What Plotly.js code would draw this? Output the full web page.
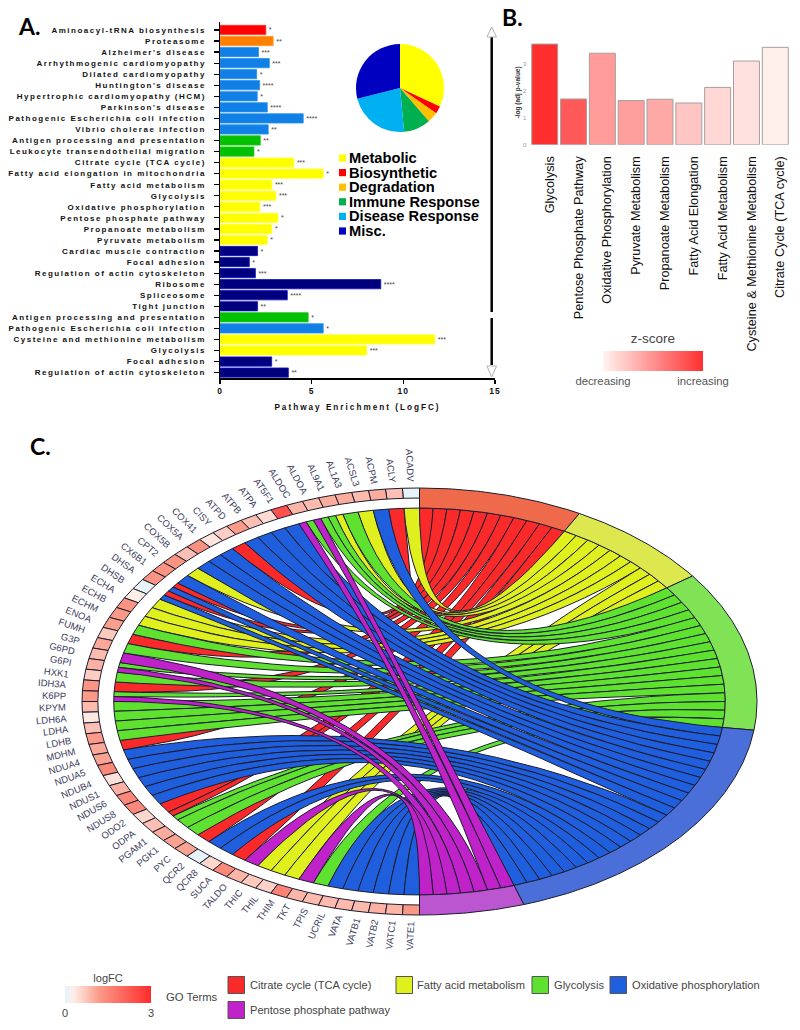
<!DOCTYPE html>
<html><head><meta charset="utf-8">
<script src="https://cdn.plot.ly/plotly-3.0.1.min.js"></script>
<style>
html,body{margin:0;padding:0;background:#fff}
#chart{width:800px;height:1030px}
.subplot.xy .yaxislayer-above text{letter-spacing:1.5px}
.subplot.xy .xaxislayer-above text{letter-spacing:1px}
.xtitle{letter-spacing:2px}
</style></head><body><div id="chart"></div>
<script>
// ---------- Panel A data
const pathways = ["Aminoacyl-tRNA biosynthesis","Proteasome","Alzheimer's disease","Arrhythmogenic cardiomyopathy","Dilated cardiomyopathy","Huntington's disease","Hypertrophic cardiomyopathy (HCM)","Parkinson's disease","Pathogenic Escherichia coli infection","Vibrio cholerae infection","Antigen processing and presentation","Leukocyte transendothelial migration","Citrate cycle (TCA cycle)","Fatty acid elongation in mitochondria","Fatty acid metabolism","Glycolysis","Oxidative phosphorylation","Pentose phosphate pathway","Propanoate metabolism","Pyruvate metabolism","Cardiac muscle contraction","Focal adhesion","Regulation of actin cytoskeleton","Ribosome","Spliceosome","Tight junction","Antigen processing and presentation","Pathogenic Escherichia coli infection","Cysteine and methionine metabolism","Glycolysis","Focal adhesion","Regulation of actin cytoskeleton"];
const enrichment = [2.5,2.9,2.1,2.69,2.0,2.16,2.03,2.58,4.54,2.63,2.2,1.85,4.03,5.63,2.83,3.05,2.18,3.16,2.83,2.58,2.05,1.6,1.93,8.77,3.67,2.05,4.81,5.63,11.72,8.0,2.82,3.73];
const groups = ["bio","deg","dis","dis","dis","dis","dis","dis","dis","dis","imm","imm","met","met","met","met","met","met","met","met","mis","mis","mis","mis","mis","mis","imm","dis","met","met","mis","mis"];
const stars = ["*","**","***","***","*","****","*","****","****","**","**","*","***","*","***","***","***","*","*","*","*","*","***","****","****","**","*","*","***","***","*","**"];
const groupFill = {bio:"#ff0000",deg:"#ff8000",dis:"#1080e6",imm:"#00c000",met:"#ffff00",mis:"#00007f"};
const groupEdge = {bio:"#ff3030",deg:"#ff9a30",dis:"#2a90ee",imm:"#20c820",met:"#ffff40",mis:"#1414c0"};
const pieLabels = ["Metabolic","Biosynthetic","Degradation","Immune Response","Disease Response","Misc."];
const pieValues = [31.9,2.8,3.9,9.9,22.6,28.9];
const pieColors = ["#ffff00","#ff0000","#ffc000","#00b050","#00b0f0","#0000c0"];
// ---------- Panel B data
const bTerms = ["Glycolysis","Pentose Phosphate Pathway","Oxidative Phosphorylation","Pyruvate Metabolism","Propanoate Metabolism","Fatty Acid Elongation","Fatty Acid Metabolism","Cysteine & Methionine Metabolism","Citrate Cycle (TCA cycle)"];
const bValues = [3.74,1.70,3.40,1.64,1.69,1.55,2.13,3.11,3.62];
const bZ = [1,.78,.45,.43,.38,.24,.14,.09,.02];
// ---------- Panel C data
const genes = ["ACADV","ACLY","ACPM","ACSL3","AL1A3","AL9A1","ALDOA","ALDOC","AT5F1","ATPA","ATPB","ATPD","CISY","COX41","COX5A","COX5B","CPT2","CX6B1","DHSA","DHSB","ECHA","ECHB","ECHM","ENOA","FUMH","G3P","G6PD","G6PI","HXK1","IDH3A","K6PP","KPYM","LDH6A","LDHA","LDHB","MDHM","NDUA4","NDUA5","NDUB4","NDUS1","NDUS6","NDUS8","ODO2","ODPA","PGAM1","PGK1","PYC","QCR2","QCR8","SUCA","TALDO","THIC","THIL","THIM","TKT","TPIS","UCRIL","VATA","VATB1","VATB2","VATC1","VATE1"];
const logFC = [.05,.8,1,.85,1,1,.85,.9,2.4,.5,.8,1.2,.65,.4,1.35,.8,1.3,1.3,1.3,.05,.3,1.3,1.2,1.15,.7,1.05,.85,.95,.65,1.3,1.2,.85,.35,.8,1.2,1.05,1.1,1.5,.45,.95,1.5,1.5,.55,.8,1,1.1,1.1,.05,.55,1.5,.9,.7,.6,1.6,.9,.85,.85,.85,.85,.95,.9,1.25];
const goTerms = ["Citrate cycle (TCA cycle)","Fatty acid metabolism","Glycolysis","Oxidative phosphorylation","Pentose phosphate pathway"];
const tcaGenes = ["ACLY","CISY","DHSA","DHSB","FUMH","IDH3A","MDHM","ODO2","ODPA","PYC","SUCA"];
const fattyGenes = ["ACADV","ACSL3","AL9A1","CPT2","ECHA","ECHB","ECHM","THIC","THIL","THIM"];
const glyGenes = ["AL1A3","AL9A1","ALDOA","ALDOC","ENOA","G3P","G6PI","HXK1","K6PP","KPYM","LDH6A","LDHA","LDHB","ODPA","PGAM1","PGK1","TPIS"];
const oxGenes = ["ACPM","AT5F1","ATPA","ATPB","ATPD","COX41","COX5A","COX5B","CX6B1","DHSA","DHSB","NDUA4","NDUA5","NDUB4","NDUS1","NDUS6","NDUS8","QCR2","QCR8","UCRIL","VATA","VATB1","VATB2","VATC1","VATE1"];
const pppGenes = ["ALDOA","ALDOC","G6PD","G6PI","K6PP","TALDO","TKT"];
const termGenes = [tcaGenes,fattyGenes,glyGenes,oxGenes,pppGenes];
const ribbonColors = ["#fb2a2a","#dff01e","#5fe22f","#1f5fdd","#be22c8"];
const ringColors = ["#ef6a4a","#dde84f","#80e255","#4a6fd8","#bb55d0"];

// ---------- helpers
const W=800,H=1030;
const px=x=>x/W, py=y=>1-y/H;
const FONT="Liberation Sans, Arial, sans-serif";
const cx=419.5,cy=701.5,rx=337.5,ry=213.5;
const L=70,R=770,T=478,B=925;
const rad=d=>d*Math.PI/180;
const pt=(deg,r)=>[Math.sin(rad(deg))*r,Math.cos(rad(deg))*r];
function arc(d0,d1,r){const n=Math.max(2,Math.ceil(Math.abs(d1-d0)/0.5));const o=[];for(let i=0;i<=n;i++){o.push(pt(d0+(d1-d0)*i/n,r));}return o;}
function bez(a,b){const o=[];for(let i=1;i<24;i++){const t=i/24,u=1-t;o.push([u*u*a[0]+t*t*b[0],u*u*a[1]+t*t*b[1]]);}return o;}
const LINE="#1c1c2e";
function poly(pts,fill,w,col){return {type:"scatter",mode:"lines",xaxis:"x3",yaxis:"y3",x:pts.map(p=>p[0]).concat(pts[0][0]),y:pts.map(p=>p[1]).concat(pts[0][1]),fill:"toself",fillcolor:fill,line:{color:col||LINE,width:w===undefined?1:w},hoverinfo:"skip",showlegend:false};}

const traces=[];
// Panel A bars
const idx=pathways.map((_,i)=>i);
traces.push({type:"bar",orientation:"h",x:enrichment,y:idx,width:.84,marker:{color:groups.map(g=>groupFill[g]),line:{color:groups.map(g=>groupEdge[g]),width:.8}},text:stars,textposition:"outside",cliponaxis:false,textfont:{family:FONT,size:7,color:"#444"},hoverinfo:"skip",showlegend:false,xaxis:"x",yaxis:"y"});
// Pie
traces.push({type:"pie",labels:pieLabels,values:pieValues,sort:false,direction:"clockwise",rotation:0,marker:{colors:pieColors},textinfo:"none",showlegend:false,hoverinfo:"skip",domain:{x:[px(356),px(444)],y:[py(132),py(44)]}});
// Panel B bars
traces.push({type:"bar",x:bTerms.map((_,i)=>i),y:bValues,width:.9,xaxis:"x2",yaxis:"y2",hoverinfo:"skip",showlegend:false,
 marker:{color:bZ,cmin:0,cmax:1,colorscale:[[0,"#fff4f0"],[1,"#ff2f2f"]],line:{color:"#a89e9e",width:1},
 colorbar:{orientation:"h",x:px(653),xanchor:"center",y:py(383),yanchor:"bottom",thickness:20,thicknessmode:"pixels",len:100,lenmode:"pixels",xpad:0,ypad:0,outlinewidth:0,ticks:"",tickmode:"array",tickvals:[0,1],ticktext:["decreasing","increasing"],tickfont:{family:FONT,size:11.3,color:"#555"},title:{text:"z-score",side:"top",font:{family:FONT,size:13.5,color:"#444"}}}}});

// Panel C chord
const nLinks=termGenes.reduce((s,g)=>s+g.length,0);
const termUnit=180/nLinks, cellDeg=180/genes.length;
const rInner=.906,rCell=.953;
const cellFill={}; genes.forEach((g,i)=>cellFill[g]=[]);
termGenes.forEach((list,t)=>list.forEach(g=>cellFill[g].push(t)));
let start=0; const starts=[];
termGenes.forEach(list=>{starts.push(start);start+=list.length*termUnit;});
termGenes.forEach((list,t)=>{
  const ordered=list.slice().sort((a,b)=>genes.indexOf(a)-genes.indexOf(b));
  ordered.forEach((g,k)=>{
    const gi=genes.indexOf(g),parts=cellFill[g],pi=parts.indexOf(t);
    const lo=-(gi+pi/parts.length)*cellDeg, hi=-(gi+(pi+1)/parts.length)*cellDeg;
    const t0=starts[t]+k*termUnit,t1=t0+termUnit;
    const a=arc(hi,lo,rInner),c=arc(t0,t1,rInner);
    const pts=a.concat(bez(pt(lo,rInner),pt(t0,rInner)),c,bez(pt(t1,rInner),pt(hi,rInner)));
    traces.push(poly(pts,ribbonColors[t]));
  });
});
termGenes.forEach((list,t)=>{
  const a0=starts[t],a1=a0+list.length*termUnit;
  traces.push(poly(arc(a0,a1,1).concat(arc(a1,a0,rInner)),ringColors[t]));
});
const fcScale=[[0,"#e4f4fb"],[.1,"#fdeee8"],[.4,"#fb9a88"],[1,"#ff2c2c"]];
function hex(c){return [1,3,5].map(i=>parseInt(c.substr(i,2),16));}
function fcColor(v){const t=Math.min(1,v/3);for(let i=1;i<fcScale.length;i++){if(t<=fcScale[i][0]){const a=fcScale[i-1],b=fcScale[i],f=(t-a[0])/(b[0]-a[0]),A=hex(a[1]),C=hex(b[1]);return "rgb("+A.map((x,j)=>Math.round(x+(C[j]-x)*f)).join(",")+")";}}return fcScale[3][1];}
genes.forEach((g,i)=>{
  const a0=-i*cellDeg,a1=-(i+1)*cellDeg;
  traces.push(poly(arc(a0,a1,1).concat(arc(a1,a0,rCell)),fcColor(logFC[i])));
});
// invisible centres that carry the logFC colour bar
traces.push({type:"scatter",mode:"markers",xaxis:"x3",yaxis:"y3",x:genes.map((_,i)=>pt(-(i+.5)*cellDeg,.976)[0]),y:genes.map((_,i)=>pt(-(i+.5)*cellDeg,.976)[1]),hoverinfo:"skip",showlegend:false,
 marker:{size:1,opacity:0,color:logFC,cmin:0,cmax:3,colorscale:fcScale,colorbar:{orientation:"h",x:px(108),xanchor:"center",y:py(1015),yanchor:"bottom",thickness:17,thicknessmode:"pixels",len:86,lenmode:"pixels",xpad:0,ypad:0,outlinewidth:0,ticks:"",tickmode:"array",tickvals:[0,3],ticktext:["0","3"],tickfont:{family:FONT,size:11,color:"#444"},title:{text:"logFC",side:"top",font:{family:FONT,size:11,color:"#444"}}}}});

// ---------- annotations
const ann=[];
const note=(x,y,text,size,opt)=>ann.push(Object.assign({xref:"paper",yref:"paper",x:px(x),y:py(y),text,showarrow:false,xanchor:"left",yanchor:"middle",font:{family:FONT,size,color:"#000"}},opt||{}));
const big={family:"Lato, sans-serif",size:23,color:"#000",weight:700};
note(16,26,"<b>A.</b>",23,{font:big}); note(500,17,"<b>B.</b>",23,{font:big}); note(28,446,"<b>C.</b>",23,{font:big});
const rows=[158,172.6,187.2,201.8,216.4,231];
const shapes=[];
const rect=(x0,y0,x1,y1,fill,line,w)=>shapes.push({type:"rect",xref:"paper",yref:"paper",x0:px(x0),x1:px(x1),y0:py(y0),y1:py(y1),fillcolor:fill,line:{color:line||fill,width:w===undefined?0:w}});
pieLabels.forEach((l,i)=>{rect(339,rows[i]-3.6,346,rows[i]+3.6,pieColors[i]);note(347,rows[i],"<b>"+l+"</b>",14.7);});
// break arrow
const seg=(y0,y1)=>shapes.push({type:"line",xref:"paper",yref:"paper",x0:px(491.7),x1:px(491.7),y0:py(y0),y1:py(y1),line:{color:"#000",width:2.5}});
seg(37,312);seg(318,365);
const tri=(a,b)=>shapes.push({type:"path",xref:"paper",yref:"paper",path:"M "+px(491.7)+" "+py(a)+" L "+px(496.5)+" "+py(b)+" L "+px(486.9)+" "+py(b)+" Z",fillcolor:"#fff",line:{color:"#b0b0b0",width:1}});
tri(27,37);tri(377,366);
// gene labels
const ctx=document.createElement("canvas").getContext("2d");
const gFont=9.5; ctx.font=gFont+"px 'Liberation Sans'";
const slantStops=[[0,0],[33,34],[45,42],[62,51],[80,73],[90,90]];
function slant(phi){for(let i=1;i<slantStops.length;i++){if(phi<=slantStops[i][0]){const a=slantStops[i-1],b=slantStops[i];return a[1]+(b[1]-a[1])*(phi-a[0])/(b[0]-a[0]);}}return 90;}
genes.forEach((g,i)=>{
  const d=(i+.5)*cellDeg,s=Math.sin(rad(d)),c=Math.cos(rad(d));
  const ex=cx-rx*1.048*s,ey=cy-ry*1.028*c;
  const phi=90-d, ang=Math.sign(phi)*slant(Math.abs(phi));
  const ux=Math.cos(rad(ang)),uy=Math.sin(rad(ang));
  const w=ctx.measureText(g).width;
  const mx=ex-ux*w/2,my=ey-uy*w/2;
  ann.push({xref:"paper",yref:"paper",x:px(mx),y:py(my),text:g,showarrow:false,xanchor:"center",yanchor:"middle",textangle:ang,font:{family:FONT,size:gFont,color:"#3c3c5c"}});
});
// GO legend
const legendPos=[[228,985,248],[396,985,415],[532,985,552],[610,985,630],[228,1010,248]];
note(164,997,"GO Terms",11.3,{font:{family:FONT,size:11.3,color:"#444"}});
goTerms.forEach((t,i)=>{const [x,y,tx]=legendPos[i];rect(x,y-8.5,x+16.5,y+8.5,ribbonColors[i],"#555",1);note(tx,y,t,11.1,{font:{family:FONT,size:11.1,color:"#444"}});});

const layout={width:W,height:H,margin:{l:0,r:0,t:0,b:0},paper_bgcolor:"#fff",plot_bgcolor:"rgba(0,0,0,0)",showlegend:false,bargap:.16,
 annotations:ann,shapes:shapes,
 xaxis:{domain:[px(220),px(495)],range:[0,15],anchor:"y",tickmode:"array",tickvals:[0,5,10,15],showgrid:false,zeroline:false,showline:true,linecolor:"#000",linewidth:1.5,ticks:"outside",ticklen:4,tickwidth:1.2,tickcolor:"#000",tickfont:{family:FONT,size:8.5,color:"#111",weight:700},title:{text:"Pathway Enrichment (LogFC)",standoff:9,font:{family:FONT,size:8.2,color:"#111",weight:700}},fixedrange:true},
 yaxis:{domain:[py(378),py(22)],range:[31.49,-.72],anchor:"x",tickmode:"array",tickvals:idx,ticktext:pathways,showgrid:false,zeroline:false,showline:true,linecolor:"#000",linewidth:1.5,ticks:"outside",ticklen:5,tickwidth:1.2,tickcolor:"#000",ticklabelstandoff:6,tickfont:{family:FONT,size:8,color:"#111",weight:700},fixedrange:true},
 xaxis2:{domain:[px(530.3),px(789.7)],range:[-.5,8.5],anchor:"y2",tickmode:"array",tickvals:bTerms.map((_,i)=>i),ticktext:bTerms,tickangle:-90,ticks:"",showgrid:false,zeroline:false,showline:false,ticklabelshift:5,ticklabelstandoff:8,tickfont:{family:FONT,size:12.7,color:"#111"},fixedrange:true},
 yaxis2:{domain:[py(144.7),py(40)],range:[0,3.892],anchor:"x2",tickmode:"array",tickvals:[0,1,2,3],ticks:"",showgrid:false,zeroline:false,showline:false,ticklabelstandoff:3,tickfont:{family:FONT,size:6,color:"#999"},title:{text:"-log (adj p-value)",standoff:1,font:{family:FONT,size:6.5,color:"#333",weight:700}},fixedrange:true},
 xaxis3:{domain:[px(L),px(R)],range:[(L-cx)/rx,(R-cx)/rx],anchor:"y3",visible:false,fixedrange:true},
 yaxis3:{domain:[py(B),py(T)],range:[(cy-B)/ry,(cy-T)/ry],anchor:"x3",visible:false,fixedrange:true}
};
Plotly.newPlot("chart",traces,layout,{displayModeBar:false,staticPlot:true});
</script></body></html>
